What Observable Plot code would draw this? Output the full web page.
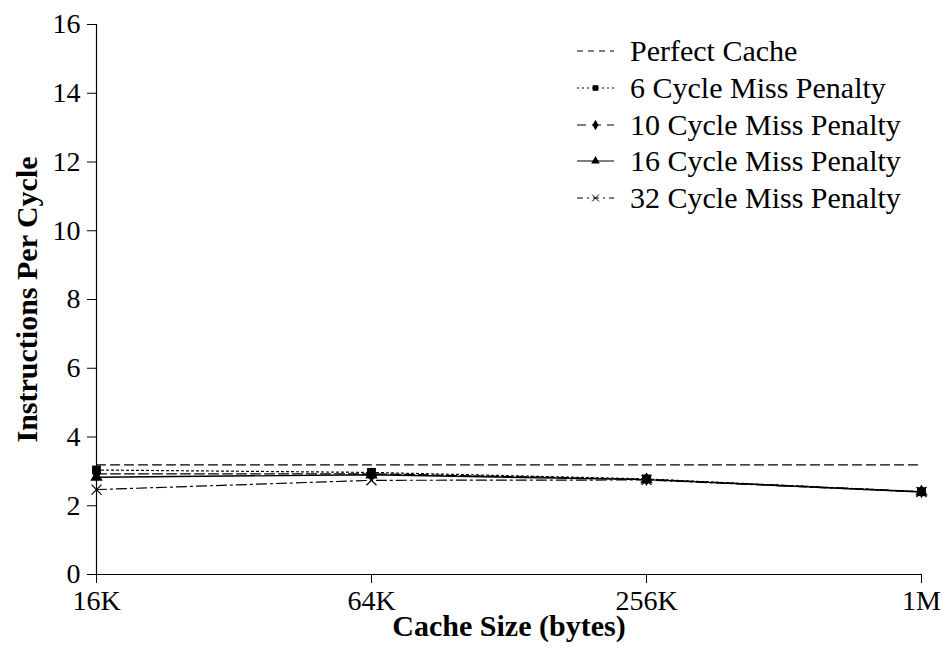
<!DOCTYPE html>
<html><head><meta charset="utf-8">
<script src="https://cdn.jsdelivr.net/npm/d3@7"></script>
<script src="https://cdn.jsdelivr.net/npm/@observablehq/plot@0.6"></script>
<style>
body{margin:0;background:#fff;}
#wrap{position:relative;width:946px;height:648px;font-family:"Liberation Serif","Times New Roman",serif;}
#legend{position:absolute;left:577px;top:33px;}
.row{display:flex;align-items:center;height:36.7px;font-size:30px;color:#000;white-space:nowrap;}
.row svg{margin-right:16px;flex:none;}
</style></head><body><div id="wrap"></div>
<script>
const sizes = ["16K", "64K", "256K", "1M"];
const seriesNames = ["Perfect Cache", "6 Cycle Miss Penalty", "10 Cycle Miss Penalty", "16 Cycle Miss Penalty", "32 Cycle Miss Penalty"];
const perfectCache = [3.19, 3.19, 3.19, 3.19];
const miss6 = [3.04, 2.97, 2.78, 2.41];
const miss10 = [2.93, 2.93, 2.77, 2.41];
const miss16 = [2.83, 2.90, 2.76, 2.40];
const miss32 = [2.47, 2.74, 2.75, 2.40];
const yTicks = [0, 2, 4, 6, 8, 10, 12, 14, 16];
const xTitle = "Cache Size (bytes)";
const yTitle = "Instructions Per Cycle";

const seriesValues = [perfectCache, miss6, miss10, miss16, miss32];
const seriesStyle = [
  {dash: "9,5", symbol: null},
  {dash: "2,3", symbol: "square", filled: true, r: 5},
  {dash: "10,4", symbol: "diamond", filled: true, r: 4},
  {dash: null, symbol: "triangle", filled: true, r: 4.6},
  {dash: "10,4,2,4", symbol: "times", filled: false, r: 4.6}
];

const rows = [];
seriesNames.forEach((name, i) => sizes.forEach((s, j) => rows.push({series: name, idx: i, size: s, value: seriesValues[i][j]})));

const lineMarks = [];
const dotMarks = [];
const drawOrder = [4, 3, 2, 0, 1];
for (const i of drawOrder) {
  const data = rows.filter(d => d.idx === i);
  const st = seriesStyle[i];
  lineMarks.push(Plot.line(data, {x: "size", y: "value", stroke: "black", strokeWidth: i === 3 ? 1.4 : 1.2, strokeDasharray: st.dash || undefined}));
  if (st.symbol) {
    dotMarks.push(Plot.dot(data, st.filled
      ? {x: "size", y: "value", symbol: st.symbol, r: st.r, fill: "black", stroke: "none"}
      : {x: "size", y: "value", symbol: st.symbol, r: st.r, fill: "none", stroke: "black", strokeWidth: 1.2}));
  }
}

const chart = Plot.plot({
  width: 946,
  height: 648,
  marginLeft: 96,
  marginRight: 25,
  marginTop: 24,
  marginBottom: 74,
  style: {fontFamily: "'Liberation Serif','Times New Roman',serif", background: "white", color: "black"},
  x: {type: "point", domain: sizes, padding: 0},
  y: {domain: [0, 16]},
  marks: [
    Plot.ruleX([sizes[0]], {stroke: "black", strokeWidth: 1.2}),
    Plot.ruleY([0], {stroke: "black", strokeWidth: 1.2}),
    Plot.axisY({ticks: yTicks, tickSize: 9, tickPadding: 7, fontSize: 28, label: null, tickFormat: d => String(d)}),
    Plot.axisX({tickSize: 9, tickPadding: 7, fontSize: 28, label: null}),
    Plot.text([yTitle], {frameAnchor: "left", dx: -69, rotate: -90, textAnchor: "middle", fontSize: 30, fontWeight: "bold", fill: "black"}),
    Plot.text([xTitle], {frameAnchor: "bottom", dy: 61, fontSize: 30, fontWeight: "bold", fill: "black"}),
    ...lineMarks,
    ...dotMarks
  ]
});
const wrap = document.getElementById("wrap");
wrap.appendChild(chart);

// legend
const legend = document.createElement("div");
legend.id = "legend";
seriesNames.forEach((name, i) => {
  const st = seriesStyle[i];
  const row = document.createElement("div");
  row.className = "row";
  const svg = d3.create("svg").attr("width", 37).attr("height", 14);
  svg.append("line").attr("x1", 0).attr("x2", 37).attr("y1", 7).attr("y2", 7)
    .attr("stroke", "black").attr("stroke-width", 1.2)
    .attr("stroke-dasharray", i === 0 ? "6,5" : i === 1 ? "2,3" : i === 2 ? "9,6" : i === 4 ? "6,4,2,4" : null);
  if (st.symbol) {
    const symMap = {square: d3.symbolSquare, diamond: d3.symbolDiamond, triangle: d3.symbolTriangle, times: d3.symbolTimes};
    svg.append("path").attr("transform", "translate(18.5,7)")
      .attr("d", d3.symbol(symMap[st.symbol], 32)())
      .attr("fill", st.filled ? "black" : "none")
      .attr("stroke", st.filled ? "none" : "black");
  }
  row.appendChild(svg.node());
  const span = document.createElement("span");
  span.textContent = name;
  row.appendChild(span);
  legend.appendChild(row);
});
wrap.appendChild(legend);
</script>
</body></html>
